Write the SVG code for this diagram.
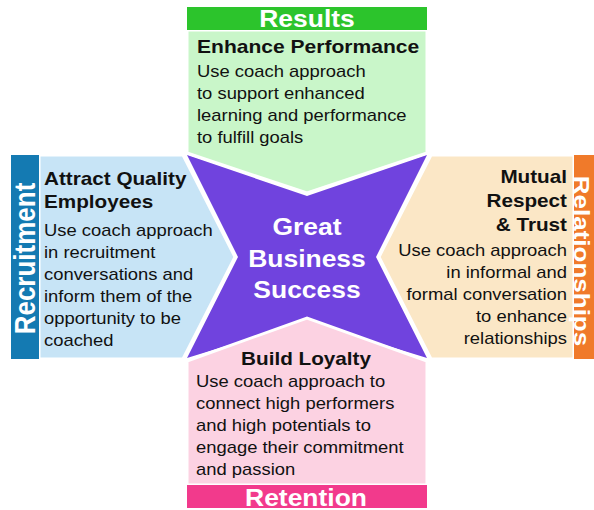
<svg xmlns="http://www.w3.org/2000/svg" width="594" height="510" viewBox="0 0 594 510">
<style>
text{font-family:"Liberation Sans",Arial,Helvetica,sans-serif}
.body{font-size:16px;fill:#111}
.head{font-size:18px;font-weight:bold;fill:#111}
.bar{font-size:23px;font-weight:bold;fill:#fff}
.vbar{font-size:26px;font-weight:bold;fill:#fff}
.panel{stroke:#fff;stroke-width:3;stroke-linejoin:miter}
</style>
<rect width="594" height="510" fill="#fff"/>
<g id="center">
<polygon points="187,155 307,196 427,155 376,257 427,358 307,321 187,358 238,257" fill="#7043de"/>
<text class="bar" text-anchor="middle" transform="translate(307,0) scale(1.15,1)"><tspan x="0" y="235">Great</tspan><tspan x="0" y="267">Business</tspan><tspan x="0" y="298">Success</tspan></text>
</g>
<g id="connectors"></g>
<g id="results">
<polygon class="panel" points="187,30 427,30 427,153 307,193 187,153" fill="#c9f6c9"/>
<rect x="187" y="7" width="240" height="23" fill="#2cc42c"/>
<text class="bar" text-anchor="middle" transform="translate(307,27) scale(1.15,1)">Results</text>
<text class="head" transform="translate(197,53) scale(1.17,1)">Enhance Performance</text>
<text class="body" transform="translate(197,0) scale(1.15,1)"><tspan x="0" y="77">Use coach approach</tspan><tspan x="0" y="99">to support enhanced</tspan><tspan x="0" y="121">learning and performance</tspan><tspan x="0" y="143">to fulfill goals</tspan></text>
</g>
<g id="recruitment">
<polygon class="panel" points="39,155 183,155 235,257 183,359 39,359" fill="#c7e4f6"/>
<rect x="11" y="155" width="28" height="204" fill="#147ab2"/>
<text class="vbar" text-anchor="middle" transform="translate(35,258.5) scale(1.15,1) rotate(-90)">Recruitment</text>
<text class="head" transform="translate(44,0) scale(1.15,1)"><tspan x="0" y="185">Attract Quality</tspan><tspan x="0" y="208">Employees</tspan></text>
<text class="body" transform="translate(44,0) scale(1.15,1)"><tspan x="0" y="236">Use coach approach</tspan><tspan x="0" y="258">in recruitment</tspan><tspan x="0" y="280">conversations and</tspan><tspan x="0" y="302">inform them of the</tspan><tspan x="0" y="324">opportunity to be</tspan><tspan x="0" y="346">coached</tspan></text>
</g>
<g id="relationships">
<polygon class="panel" points="574,155 431,155 379,257 431,359 574,359" fill="#fbe7c6"/>
<rect x="574" y="155" width="22" height="204" fill="#f07a2a"/>
<text class="vbar" text-anchor="middle" transform="translate(573.5,261) scale(0.88,1) rotate(90)">Relationships</text>
<text class="head" text-anchor="end" transform="translate(567,0) scale(1.15,1)"><tspan x="0" y="183">Mutual</tspan><tspan x="0" y="207">Respect</tspan><tspan x="0" y="231">&amp; Trust</tspan></text>
<text class="body" text-anchor="end" transform="translate(567,0) scale(1.15,1)"><tspan x="0" y="256">Use coach approach</tspan><tspan x="0" y="278">in informal and</tspan><tspan x="0" y="300">formal conversation</tspan><tspan x="0" y="322">to enhance</tspan><tspan x="0" y="344">relationships</tspan></text>
</g>
<g id="retention">
<polygon class="panel" points="187,361 307,318 427,361 427,485 187,485" fill="#fcd2e2"/>
<rect x="187" y="485" width="240" height="23" fill="#f23a8c"/>
<text class="bar" text-anchor="middle" transform="translate(306,506) scale(1.15,1)">Retention</text>
<text class="head" text-anchor="middle" transform="translate(306,365) scale(1.15,1)">Build Loyalty</text>
<text class="body" transform="translate(196,0) scale(1.15,1)"><tspan x="0" y="387">Use coach approach to</tspan><tspan x="0" y="409">connect high performers</tspan><tspan x="0" y="431">and high potentials to</tspan><tspan x="0" y="453">engage their commitment</tspan><tspan x="0" y="475">and passion</tspan></text>
</g>
</svg>
